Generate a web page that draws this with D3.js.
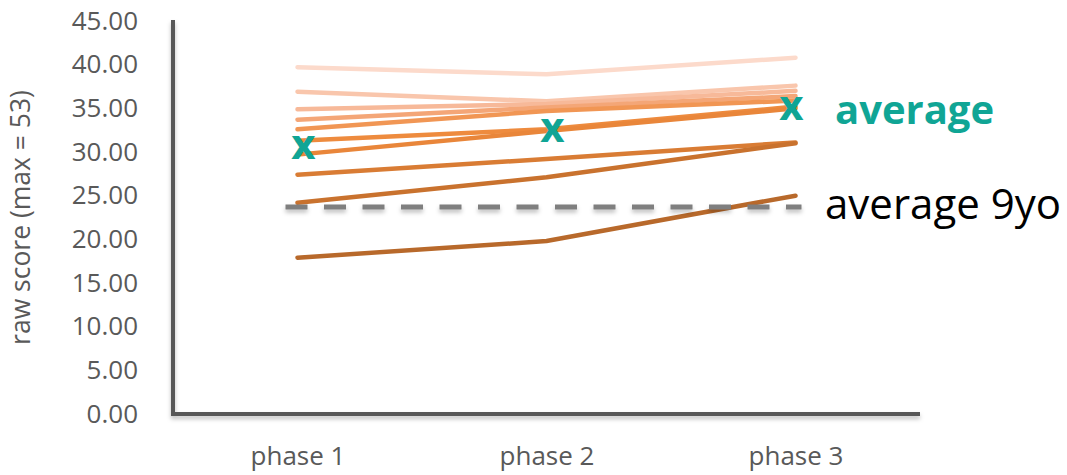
<!DOCTYPE html>
<html>
<head>
<meta charset="utf-8">
<script src="https://cdn.jsdelivr.net/npm/d3@7"></script>
<style>
  html, body { margin: 0; padding: 0; background: #ffffff; }
  svg { display: block; }
  text { font-family: "Open Sans", "Noto Sans", sans-serif; }
</style>
</head>
<body>
<svg id="chart" width="1067" height="475"></svg>
<script>
// Phases on the x axis
const phases = ["phase 1", "phase 2", "phase 3"];

// Raw scores of each child across the three phases (highest first)
const child01 = [39.7, 38.9, 40.8];
const child02 = [36.9, 35.8, 37.6];
const child03 = [34.9, 35.5, 37.0];
const child04 = [33.7, 35.1, 36.4];
const child05 = [32.6, 34.7, 35.9];
const child06 = [31.3, 32.6, 35.2];
const child07 = [29.7, 32.4, 35.0];
const child08 = [27.4, 29.2, 31.1];
const child09 = [24.2, 27.1, 31.0];
const child10 = [17.9, 19.8, 25.0];

// Group average per phase
const groupAverage = [30.5, 32.4, 34.9];

// Reference average of 9-year-olds
const average9yo = 23.7;

// Y axis ticks
const yTicks = [0, 5, 10, 15, 20, 25, 30, 35, 40, 45];

const children = [child01, child02, child03, child04, child05,
                  child06, child07, child08, child09, child10];
const childColors = ["#fcdacb", "#f9c6ac", "#f7b999", "#f4a677", "#f19654",
                     "#ee8b3e", "#e9863a", "#d97c34", "#c9722e", "#b8692b"];

const svg = d3.select("#chart");

const defs = svg.append("defs");
const shadow = defs.append("filter").attr("id", "soft-shadow")
  .attr("filterUnits", "userSpaceOnUse")
  .attr("x", 0).attr("y", 0).attr("width", 1067).attr("height", 475);
shadow.append("feDropShadow").attr("dx", 0).attr("dy", 3)
  .attr("stdDeviation", 2).attr("flood-color", "#000").attr("flood-opacity", 0.25);

const x = d3.scalePoint().domain(phases).range([173, 920]).padding(0.5);
const y = d3.scaleLinear().domain([0, 45]).range([414, 21]);

// Axes
const yAxis = d3.axisLeft(y).tickValues(yTicks).tickSize(0).tickPadding(35)
  .tickFormat(d3.format(".2f"));
const gy = svg.append("g").attr("transform", "translate(173,0)").call(yAxis);
gy.select(".domain").remove();
gy.selectAll("text").attr("font-size", 26).attr("fill", "#595959")
  .style("font-family", "'Open Sans', sans-serif");

const xAxis = d3.axisBottom(x).tickSize(0).tickPadding(33);
const gx = svg.append("g").attr("transform", "translate(0,414)").call(xAxis);
gx.select(".domain").remove();
gx.selectAll("text").attr("font-size", 26).attr("fill", "#595959")
  .style("font-family", "'Open Sans', sans-serif");

// Axis lines (L-shaped frame)
svg.append("path")
  .attr("d", d3.line()([[173, y(45) - 1], [173, y(0)], [920, y(0)]]))
  .attr("fill", "none").attr("stroke", "#595959").attr("stroke-width", 4)
  .attr("filter", "url(#soft-shadow)");

// Y axis title
svg.append("text")
  .attr("transform", `translate(30,${(y(45) + y(0)) / 2}) rotate(-90)`)
  .attr("text-anchor", "middle")
  .attr("font-size", 26.5).attr("fill", "#595959")
  .text("raw score (max = 53)");

// Child lines
const line = d3.line().x((d, i) => x(phases[i])).y(d => y(d));
svg.append("g").selectAll("path")
  .data(children)
  .join("path")
  .attr("d", line)
  .attr("fill", "none")
  .attr("stroke", (d, i) => childColors[i])
  .attr("stroke-width", 4.5)
  .attr("stroke-linecap", "round")
  .attr("stroke-linejoin", "round");

// Dashed reference line for 9-year-olds
svg.append("line")
  .attr("x1", x(phases[0]) - 12).attr("x2", x(phases[2]) + 6)
  .attr("y1", y(average9yo)).attr("y2", y(average9yo))
  .attr("stroke", "#7f7f7f").attr("stroke-width", 5)
  .attr("stroke-dasharray", "22,16.5")
  .attr("filter", "url(#soft-shadow)");

// Group average markers
const teal = "#10a595";
svg.append("g").selectAll("text")
  .data(groupAverage)
  .join("text")
  .attr("x", (d, i) => x(phases[i]) + (i < 2 ? 6 : -4))
  .attr("y", d => y(d) + 11)
  .attr("text-anchor", "middle")
  .attr("font-size", 42).attr("font-weight", 700)
  .attr("fill", teal)
  .text("x");

// Labels
svg.append("text")
  .attr("x", 835).attr("y", y(groupAverage[2]) + 15)
  .attr("font-size", 40).attr("font-weight", 700).attr("fill", teal)
  .text("average");

svg.append("text")
  .attr("x", 825).attr("y", y(average9yo) + 12)
  .attr("font-size", 42).attr("fill", "#000000")
  .text("average 9yo");
</script>
</body>
</html>
